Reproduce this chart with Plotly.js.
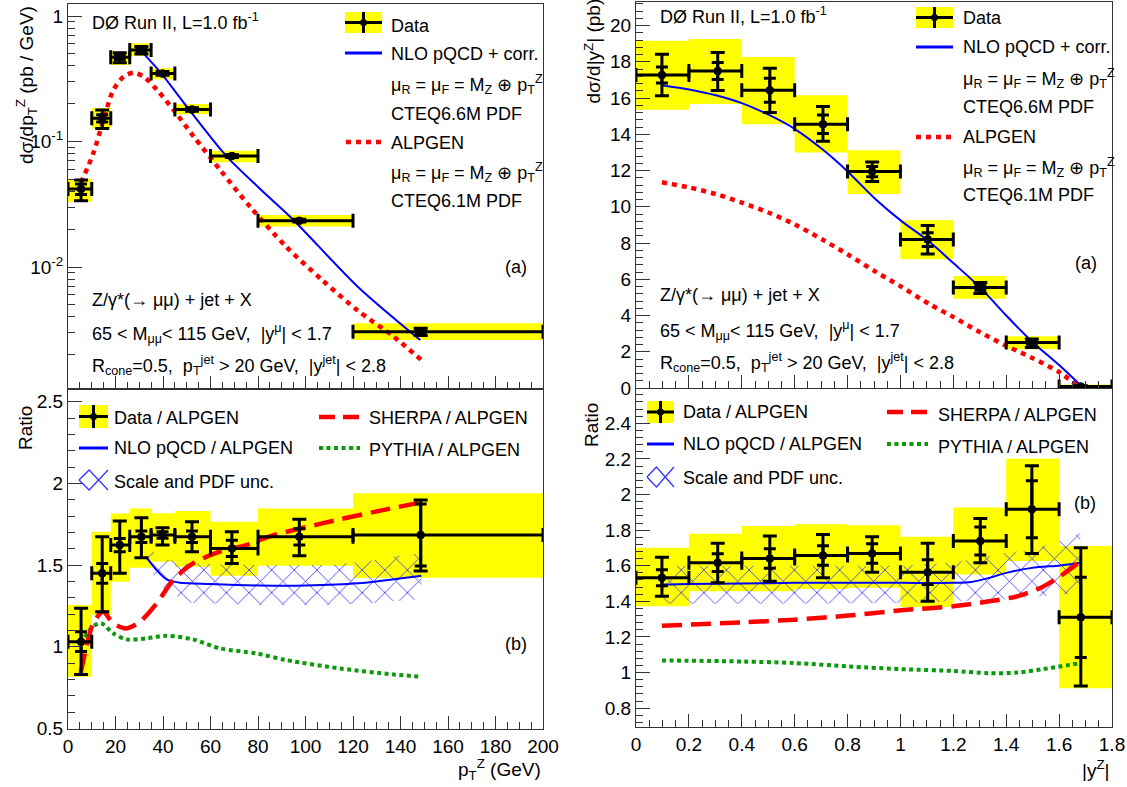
<!DOCTYPE html>
<html><head><meta charset="utf-8">
<script src="https://cdn.plot.ly/plotly-3.0.1.min.js"></script>
<style>html,body{margin:0;padding:0;background:#fff;} #chart{width:1127px;height:787px;}</style>
</head><body><div id="chart"></div>
<script>
// ---------------- data: left column, pT^Z ----------------
const ptEdges = [0,10,18,26,35,45,60,80,120,200];
const ptX = [5.5,14.4,21.8,30.9,39.8,52.2,69.0,97.4,148.5];
const ptXsec = [0.0418,0.153,0.469,0.536,0.349,0.180,0.0766,0.0234,0.00305];
const ptXsecErrHi = [0.0075,0.025,0.04,0.035,0.012,0.006,0.002,0.0006,0.0002];
const ptXsecErrLo = [0.008,0.026,0.045,0.038,0.012,0.006,0.002,0.0006,0.0002];
const ptXsecStat = [0.004,0.01,0.02,0.015,0.006,0.003,0.001,0.0003,0.00012];
const ptXsecSystLo = [0.033,0.127,0.407,0.48,0.313,0.165,0.0683,0.021,0.00262];
const ptXsecSystHi = [0.0502,0.185,0.52,0.605,0.383,0.199,0.0845,0.026,0.00356];
const ptNloX = [31.7,38.7,50,66.9,80.8,94.9,122,148.3];
const ptNloY = [0.504,0.36,0.19,0.0757,0.042,0.0237,0.00697,0.00262];
const ptAlpX = [5.5,10.7,14.9,19.1,23.5,27.7,31.9,37.5,44.5,53,64.2,76.8,91.9,106.9,122,137,149];
const ptAlpY = [0.047,0.081,0.148,0.257,0.329,0.353,0.329,0.257,0.178,0.109,0.059,0.030,0.0145,0.0079,0.0045,0.0028,0.0018];

const ptRatio = [1.031,1.449,1.622,1.673,1.684,1.673,1.602,1.673,1.684];
const ptRatioErrHi = [0.204,0.224,0.147,0.117,0.045,0.092,0.102,0.107,0.214];
const ptRatioErrLo = [0.201,0.235,0.173,0.128,0.062,0.091,0.092,0.116,0.221];
const ptRatioStat = [0.06,0.06,0.04,0.035,0.02,0.035,0.05,0.05,0.19];
const ptRatioSystLo = [0.816,1.194,1.398,1.484,1.52,1.490,1.435,1.496,1.422];
const ptRatioSystHi = [1.255,1.704,1.816,1.847,1.817,1.831,1.765,1.847,1.939];
const ptNloRatioX = [32.8,37.3,41.5,47.1,59.7,80.8,100,122,148.8];
const ptNloRatioY = [1.551,1.469,1.412,1.392,1.384,1.375,1.375,1.388,1.435];
const ptBandX = [32.8,40,50,80,110,125,140,148.8];
const ptBandHi = [1.61,1.54,1.51,1.50,1.50,1.52,1.56,1.57];
const ptBandLo = [1.50,1.36,1.27,1.255,1.255,1.265,1.28,1.29];
const ptSherpaX = [5.3,7.8,10.6,14.8,19,24.6,30.3,37.3,44.3,52.6,63.9,75.1,84.3,106.9,129.5,148.8];
const ptSherpaY = [0.837,1.0,1.143,1.214,1.143,1.112,1.153,1.265,1.408,1.51,1.582,1.622,1.673,1.755,1.827,1.884];
const ptPythiaX = [5.3,10.6,14.1,19,24.6,33,41.4,52.6,63.9,79.3,91.9,114.5,137,148.8];
const ptPythiaY = [1.02,1.126,1.143,1.082,1.045,1.051,1.067,1.045,0.99,0.959,0.918,0.867,0.830,0.816];

// ---------------- data: right column, |y^Z| ----------------
const yEdges = [0,0.2,0.4,0.6,0.8,1.0,1.2,1.4,1.6,1.8];
const yX = [0.098,0.309,0.506,0.707,0.893,1.103,1.302,1.497,1.682];
const yXsec = [17.27,17.49,16.43,14.55,11.94,8.19,5.54,2.51,0.08];
const yXsecErrHi = [1.15,1.02,1.21,0.98,0.53,0.78,0.28,0.19,0.05];
const yXsecErrLo = [1.14,1.08,1.23,0.93,0.55,0.79,0.33,0.28,0.05];
const yXsecStat = [0.44,0.47,0.66,0.51,0.28,0.38,0.15,0.1,0.03];
const yXsecSystLo = [15.35,15.67,14.55,12.99,10.70,7.11,4.93,2.14,0.0];
const yXsecSystHi = [19.16,19.26,18.27,16.15,13.12,9.25,6.18,2.85,0.2];
const yNloX = [0.098,0.201,0.302,0.4,0.503,0.601,0.705,0.803,0.906,1.004,1.103,1.201,1.302,1.4,1.497,1.604,1.678];
const yNloY = [16.71,16.47,16.15,15.72,15.07,14.29,13.17,11.91,10.42,9.21,8.15,6.88,5.54,4.0,2.57,1.21,0.19];
const yAlpX = [0.098,0.2,0.302,0.4,0.503,0.601,0.705,0.803,0.906,1.004,1.107,1.201,1.302,1.4,1.497,1.604,1.664];
const yAlpY = [11.35,11.07,10.70,10.23,9.67,9.02,8.19,7.35,6.42,5.58,4.65,3.91,3.07,2.33,1.67,0.84,0.19];

const yRatio = [1.532,1.617,1.641,1.658,1.669,1.564,1.739,1.917,1.31];
const yRatioErrHi = [0.116,0.109,0.126,0.118,0.094,0.162,0.126,0.245,0.391];
const yRatioErrLo = [0.103,0.113,0.128,0.126,0.105,0.164,0.122,0.248,0.385];
const yRatioStat = [0.045,0.05,0.055,0.055,0.055,0.07,0.078,0.16,0.225];
const yRatioSystLo = [1.372,1.457,1.457,1.470,1.476,1.368,1.551,1.626,0.912];
const yRatioSystHi = [1.701,1.78,1.823,1.833,1.827,1.763,1.927,2.203,1.711];
const yNloRatioX = [0.098,0.2,0.4,0.601,0.803,1.004,1.201,1.268,1.336,1.4,1.497,1.604,1.682];
const yNloRatioY = [1.494,1.498,1.5,1.504,1.504,1.504,1.504,1.509,1.532,1.56,1.588,1.602,1.617];
const yBandX = [0.1,0.5,1.0,1.2,1.3,1.4,1.5,1.6,1.68];
const yBandHi = [1.60,1.60,1.60,1.617,1.645,1.673,1.69,1.74,1.786];
const yBandLo = [1.387,1.387,1.39,1.40,1.405,1.41,1.425,1.438,1.447];
const ySherpaX = [0.098,0.4,0.601,0.803,1.004,1.201,1.336,1.443,1.537,1.604,1.682];
const ySherpaY = [1.263,1.282,1.297,1.320,1.350,1.372,1.40,1.429,1.481,1.541,1.626];
const yPythiaX = [0.098,0.4,0.601,0.803,1.004,1.201,1.336,1.443,1.537,1.682];
const yPythiaY = [1.068,1.062,1.053,1.034,1.019,1.009,0.996,1.0,1.019,1.053];

// ---------------- styling helpers ----------------
const FONT = 'Liberation Sans, Arial, Helvetica, sans-serif';
const W = 1127, H = 787;
const PX = x => x / W, PY = y => 1 - y / H;
const YELLOW = '#ffff00', BLUE = '#0000ff', RED = '#ff0000', GREEN = '#0a9a0a';
const HATCH = 'rgba(40,40,255,0.95)';
const RED_DOT = '5px,5px', RED_DASH = '20px,9px', GREEN_DOT = '4px,3.5px';

function boxTrace(edges, lo, hi, xa, ya) {
  const xs = [], ys = [];
  lo.forEach((l, i) => {
    const a = edges[i], b = edges[i + 1], h = hi[i];
    xs.push(a, b, b, a, a, null); ys.push(l, l, h, h, l, null);
  });
  return {type:'scatter', mode:'lines', x:xs, y:ys, fill:'toself', fillcolor:YELLOW,
          line:{width:0, color:YELLOW}, xaxis:xa, yaxis:ya, hoverinfo:'skip'};
}
function dataTrace(xc, val, edges, eHi, eLo, xa, ya) {
  return {type:'scatter', mode:'markers', x:xc, y:val, xaxis:xa, yaxis:ya,
    marker:{color:'#000', size:8},
    error_y:{type:'data', symmetric:false, array:eHi, arrayminus:eLo, color:'#000', thickness:3, width:7},
    error_x:{type:'data', symmetric:false, array:xc.map((x,i)=>edges[i+1]-x),
             arrayminus:xc.map((x,i)=>x-edges[i]), color:'#000', thickness:3, width:7}};
}
function statTrace(xc, val, st, xa, ya) {
  return {type:'scatter', mode:'markers', x:xc, y:val, xaxis:xa, yaxis:ya,
    marker:{color:'#000', size:8},
    error_y:{type:'data', array:st, color:'#000', thickness:3, width:6}};
}
function lineTrace(x, y, color, width, dash, xa, ya) {
  return {type:'scatter', mode:'lines', x, y, xaxis:xa, yaxis:ya,
    line:{color, width, dash, shape:'spline', smoothing:0.8}, hoverinfo:'skip'};
}
function bandTrace(x, hi, lo, xa, ya) {
  return {type:'scatter', mode:'lines', x:x.concat(x.slice().reverse()), y:hi.concat(lo.slice().reverse()),
    fill:'toself', fillcolor:'rgba(0,0,0,0)', line:{width:0},
    fillpattern:{shape:'x', fgcolor:HATCH, bgcolor:'rgba(0,0,0,0)', size:16, solidity:0.1},
    xaxis:xa, yaxis:ya, hoverinfo:'skip'};
}

const traces = [
  // top-left
  boxTrace(ptEdges, ptXsecSystLo, ptXsecSystHi, 'x', 'y'),
  lineTrace(ptAlpX, ptAlpY, RED, 4.5, RED_DOT, 'x', 'y'),
  lineTrace(ptNloX, ptNloY, BLUE, 2, 'solid', 'x', 'y'),
  dataTrace(ptX, ptXsec, ptEdges, ptXsecErrHi, ptXsecErrLo, 'x', 'y'),
  statTrace(ptX, ptXsec, ptXsecStat, 'x', 'y'),
  // bottom-left
  boxTrace(ptEdges, ptRatioSystLo, ptRatioSystHi, 'x2', 'y2'),
  bandTrace(ptBandX, ptBandHi, ptBandLo, 'x2', 'y2'),
  lineTrace(ptNloRatioX, ptNloRatioY, BLUE, 2, 'solid', 'x2', 'y2'),
  lineTrace(ptPythiaX, ptPythiaY, GREEN, 4, GREEN_DOT, 'x2', 'y2'),
  lineTrace(ptSherpaX, ptSherpaY, RED, 4.5, RED_DASH, 'x2', 'y2'),
  dataTrace(ptX, ptRatio, ptEdges, ptRatioErrHi, ptRatioErrLo, 'x2', 'y2'),
  statTrace(ptX, ptRatio, ptRatioStat, 'x2', 'y2'),
  // top-right
  boxTrace(yEdges, yXsecSystLo, yXsecSystHi, 'x3', 'y3'),
  lineTrace(yAlpX, yAlpY, RED, 4.5, RED_DOT, 'x3', 'y3'),
  lineTrace(yNloX, yNloY, BLUE, 2, 'solid', 'x3', 'y3'),
  dataTrace(yX, yXsec, yEdges, yXsecErrHi, yXsecErrLo, 'x3', 'y3'),
  statTrace(yX, yXsec, yXsecStat, 'x3', 'y3'),
  // bottom-right
  boxTrace(yEdges, yRatioSystLo, yRatioSystHi, 'x4', 'y4'),
  bandTrace(yBandX, yBandHi, yBandLo, 'x4', 'y4'),
  lineTrace(yNloRatioX, yNloRatioY, BLUE, 2, 'solid', 'x4', 'y4'),
  lineTrace(yPythiaX, yPythiaY, GREEN, 4, GREEN_DOT, 'x4', 'y4'),
  lineTrace(ySherpaX, ySherpaY, RED, 4.5, RED_DASH, 'x4', 'y4'),
  dataTrace(yX, yRatio, yEdges, yRatioErrHi, yRatioErrLo, 'x4', 'y4'),
  statTrace(yX, yRatio, yRatioStat, 'x4', 'y4')
];

const ax = (o) => Object.assign({showline:true, linecolor:'#333', linewidth:1, mirror:true,
  ticks:'inside', tickcolor:'#333', tickwidth:1, showgrid:false, zeroline:false,
  tickfont:{size:19, family:FONT, color:'#000'}, fixedrange:true}, o);
const minor = (d, len) => ({dtick:d, ticks:'inside', ticklen:len||7, tickcolor:'#333', showgrid:false});

const logMinor = [];
[0.001,0.01,0.1].forEach(d => { for (let k = 2; k <= 9; k++) logMinor.push(k*d); });

const LX = [PX(68), PX(543)], RX = [PX(636), PX(1112)];
const layout = {
  width:W, height:H, margin:{l:0,r:0,t:0,b:0}, showlegend:false,
  paper_bgcolor:'#fff', plot_bgcolor:'rgba(0,0,0,0)', font:{family:FONT, color:'#000'},
  xaxis: ax({domain:LX, anchor:'y', range:[0,200], dtick:20, ticklen:13, showticklabels:false, minor:minor(5)}),
  yaxis: ax({domain:[PY(389), PY(4)], anchor:'x', type:'log', range:[-2.972, 0.0956],
    tickmode:'array', tickvals:[0.01,0.1,1], ticktext:['10<sup>-2</sup>','10<sup>-1</sup>','1'], ticklen:14,
    minor:{tickmode:'array', tickvals:logMinor, ticks:'inside', ticklen:7, tickcolor:'#333', showgrid:false}}),
  xaxis2: ax({domain:LX, anchor:'y2', range:[0,200], dtick:20, ticklen:13, minor:minor(5)}),
  yaxis2: ax({domain:[PY(729), PY(389)], anchor:'x2', range:[0.496, 2.578], dtick:0.5, ticklen:14, minor:minor(0.1)}),
  xaxis3: ax({domain:RX, anchor:'y3', range:[0,1.8], dtick:0.2, ticklen:13, showticklabels:false, minor:minor(0.05)}),
  yaxis3: ax({domain:[PY(388), PY(2)], anchor:'x3', range:[0, 21.3], dtick:2, ticklen:14, minor:minor(0.4)}),
  xaxis4: ax({domain:RX, anchor:'y4', range:[0,1.8], dtick:0.2, ticklen:13, minor:minor(0.05)}),
  yaxis4: ax({domain:[PY(727), PY(389)], anchor:'x4', range:[0.694, 2.593], dtick:0.2, ticklen:14, minor:minor(0.04)}),
  annotations: [], shapes: []
};

// ---------------- text ----------------
function txt(x, y, text, o) {
  layout.annotations.push(Object.assign({xref:'paper', yref:'paper', x:PX(x), y:PY(y), text, showarrow:false,
    xanchor:'left', yanchor:'middle', font:{size:18, family:FONT, color:'#000'}}, o || {}));
}
const MU = 'μ<sub>R</sub> = μ<sub>F</sub> = M<sub>Z</sub> ⊕ p<sub>T</sub><sup>Z</sup>';
const DZ = 'DØ Run II, L=1.0 fb<sup>-1</sup>';
const SEL1 = 'Z/γ*(→ μμ) + jet + X';
const SEL2 = '65 < M<sub>μμ</sub>< 115 GeV,  |y<sup>μ</sup>| < 1.7';
const SEL3 = 'R<sub>cone</sub>=0.5,  p<sub>T</sub><sup>jet</sup> > 20 GeV,  |y<sup>jet</sup>| < 2.8';

// top-left
txt(90, 21, DZ);
txt(389, 26, 'Data'); txt(389, 54, 'NLO pQCD + corr.'); txt(389, 85, MU); txt(389, 114, 'CTEQ6.6M PDF');
txt(389, 143, 'ALPGEN'); txt(389, 172, MU); txt(389, 201, 'CTEQ6.1M PDF');
txt(516, 267, '(a)', {xanchor:'center'});
txt(90, 300, SEL1); txt(90, 333, SEL2); txt(90, 365, SEL3);
// bottom-left
txt(112, 418, 'Data / ALPGEN'); txt(112, 448, 'NLO pQCD / ALPGEN'); txt(112, 482, 'Scale and PDF unc.');
txt(367, 418, 'SHERPA / ALPGEN'); txt(367, 450, 'PYTHIA / ALPGEN');
txt(516, 644, '(b)', {xanchor:'center'});
// top-right
txt(658, 16, DZ);
txt(961, 18, 'Data'); txt(961, 47, 'NLO pQCD + corr.'); txt(961, 79, MU); txt(961, 107, 'CTEQ6.6M PDF');
txt(961, 137, 'ALPGEN'); txt(961, 167, MU); txt(961, 195, 'CTEQ6.1M PDF');
txt(1086, 263, '(a)', {xanchor:'center'});
txt(658, 295, SEL1); txt(658, 330, SEL2); txt(658, 362, SEL3);
// bottom-right
txt(681, 412, 'Data / ALPGEN'); txt(681, 444, 'NLO pQCD / ALPGEN'); txt(681, 478, 'Scale and PDF unc.');
txt(936, 415, 'SHERPA / ALPGEN'); txt(936, 447, 'PYTHIA / ALPGEN');
txt(1085, 503, '(b)', {xanchor:'center'});
// axis titles
const TF = {size:19, family:FONT, color:'#000'};
txt(26, 4, 'dσ/dp<sub>T</sub><sup>Z</sup> (pb / GeV)', {textangle:-90, xanchor:'center', yanchor:'top', font:TF});
txt(26, 404, 'Ratio', {textangle:-90, xanchor:'center', yanchor:'top', font:TF});
txt(592, -3, 'dσ/d|y<sup>Z</sup>| (pb)', {textangle:-90, xanchor:'center', yanchor:'top', font:TF});
txt(592, 401, 'Ratio', {textangle:-90, xanchor:'center', yanchor:'top', font:TF});
txt(543, 769, 'p<sub>T</sub><sup>Z</sup> (GeV)', {xanchor:'right', font:TF});
txt(1112, 769, '|y<sup>Z</sup>|', {xanchor:'right', font:TF});

// ---------------- legend symbols ----------------
function rect(x0, y0, x1, y1, color) {
  layout.shapes.push({type:'rect', xref:'paper', yref:'paper', x0:PX(x0), x1:PX(x1), y0:PY(y1), y1:PY(y0),
    fillcolor:color, line:{width:0}, layer:'above'});
}
function seg(x0, y0, x1, y1, color, width, dash) {
  layout.shapes.push({type:'line', xref:'paper', yref:'paper', x0:PX(x0), x1:PX(x1), y0:PY(y0), y1:PY(y1),
    line:{color, width, dash:dash || 'solid'}, layer:'above'});
}
function dataIcon(x0, y0, x1, y1) {
  rect(x0, y0, x1, y1, YELLOW);
  const xm = (x0 + x1) / 2, ym = (y0 + y1) / 2;
  seg(x0, ym, x1, ym, '#000', 3); seg(xm, y0, xm, y1, '#000', 3);
  layout.shapes.push({type:'circle', xref:'paper', yref:'paper', x0:PX(xm-3.5), x1:PX(xm+3.5), y0:PY(ym+3.5), y1:PY(ym-3.5),
    fillcolor:'#000', line:{width:0}, layer:'above'});
}
function hatchIcon(x0, y0, x1, y1) {
  const xm = x0 + (x1 - x0) * 0.35, ym = (y0 + y1) / 2;
  const p = (x, y) => PX(x) + ',' + PY(y);
  const path = 'M' + p(x0, ym) + ' L' + p(xm, y0) + ' L' + p(x1, y1) +
               ' M' + p(x0, ym) + ' L' + p(xm, y1) + ' L' + p(x1, y0);
  layout.shapes.push({type:'path', xref:'paper', yref:'paper', path, line:{color:HATCH, width:1.3}, layer:'above'});
}
// top-left
dataIcon(345, 12, 382, 33); seg(345, 53, 382, 53, BLUE, 3); seg(346, 142, 382, 142, RED, 4.5, RED_DOT);
// top-right
dataIcon(916, 7, 953, 28); seg(916, 47, 953, 47, BLUE, 3); seg(916, 137, 953, 137, RED, 4.5, RED_DOT);
// bottom-left
dataIcon(79, 405, 108, 428); seg(79, 448, 108, 448, BLUE, 3); hatchIcon(79, 470, 108, 490);
seg(319, 417, 360, 417, RED, 4.5, '16px,8px'); seg(319, 448, 360, 448, GREEN, 4, GREEN_DOT);
// bottom-right
dataIcon(647, 401, 674, 423); seg(647, 444, 674, 444, BLUE, 3); hatchIcon(647, 467, 674, 487);
seg(887, 412, 928, 412, RED, 4.5, '16px,8px'); seg(887, 444, 928, 444, GREEN, 4, GREEN_DOT);

Plotly.newPlot('chart', traces, layout, {staticPlot:true, displayModeBar:false});
</script></body></html>
